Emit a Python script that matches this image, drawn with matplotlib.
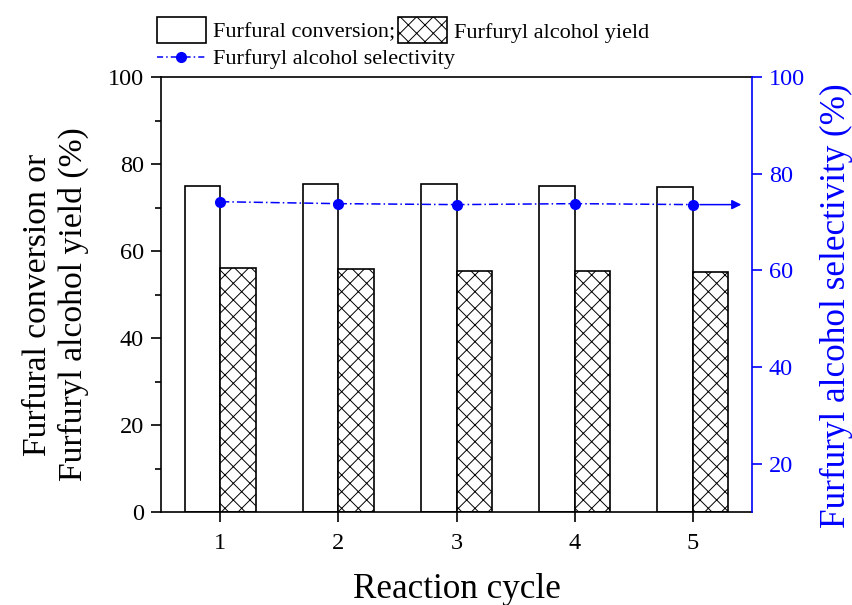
import matplotlib.pyplot as plt
from matplotlib.patches import Patch
from matplotlib.lines import Line2D
from matplotlib.ticker import MultipleLocator

cycles = [1, 2, 3, 4, 5]
conversion = [75.0, 75.4, 75.3, 75.0, 74.7]
yield_fa = [56.2, 55.8, 55.5, 55.5, 55.1]
selectivity = [74.2, 73.8, 73.6, 73.8, 73.6]

plt.rcParams['font.family'] = ['Liberation Serif', 'DejaVu Serif']
plt.rcParams['hatch.linewidth'] = 0.7
plt.rcParams['axes.linewidth'] = 1.2

fig = plt.figure(figsize=(8.52, 6.05), dpi=100)
ax = fig.add_axes([0.189, 0.1537, 0.6936, 0.719])

w = 0.3
ax.bar([c - w / 2 for c in cycles], conversion, w, color='white', edgecolor='black', linewidth=1.2)
ax.bar([c + w / 2 for c in cycles], yield_fa, w, color='white', edgecolor='black',
       linewidth=1.2, hatch='xx')

ax.set_xlim(0.5, 5.5)
ax.set_ylim(0, 100)
ax.set_xticks(cycles)
ax.yaxis.set_major_locator(MultipleLocator(20))
ax.yaxis.set_minor_locator(MultipleLocator(10))
ax.tick_params(axis='both', which='major', direction='out', length=7, width=1.2, labelsize=17.5)
ax.tick_params(axis='x', pad=8)
ax.tick_params(axis='y', pad=5.5)
ax.tick_params(axis='y', which='minor', direction='out', length=4, width=1.2)
ax.spines['right'].set_visible(False)
ax.set_xlabel('Reaction cycle', fontsize=25.3, labelpad=13.5)
ax.set_ylabel('Furfural conversion or\nFurfuryl alcohol yield (%)', fontsize=24.2, labelpad=13,
              linespacing=1.2)
ax.yaxis.label.set_y(0.477)

ax2 = ax.twinx()
ax2.plot(cycles, selectivity, color='blue', linestyle=(0, (6, 2, 1, 2)), linewidth=1.1,
         marker='o', markersize=7)
# arrow pointing to the right axis
ax2.annotate('', xy=(5.41, selectivity[-1]), xytext=(5.06, selectivity[-1]),
             arrowprops=dict(arrowstyle='-|>', color='blue', lw=1.1, shrinkA=0, shrinkB=0,
                             mutation_scale=14))
ax2.set_ylim(10, 100)
ax2.set_yticks([20, 40, 60, 80, 100])
for s in ['left', 'top', 'bottom']:
    ax2.spines[s].set_visible(False)
ax2.spines['right'].set_color('blue')
ax2.tick_params(axis='y', direction='out', length=7, width=1.2, colors='blue', labelsize=17.5,
                pad=5)
ax2.set_ylabel('Furfuryl alcohol selectivity (%)', fontsize=25.3, color='blue', labelpad=11)
ax2.yaxis.label.set_y(0.474)

h1 = [Patch(facecolor='white', edgecolor='black', linewidth=1.2),
      Patch(facecolor='white', edgecolor='black', linewidth=1.2, hatch='xx')]
leg1 = fig.legend(h1, ['Furfural conversion;', 'Furfuryl alcohol yield'], ncol=2,
                  loc='upper left', bbox_to_anchor=(0.166, 0.997), frameon=False, fontsize=16,
                  handlelength=2.2, handleheight=1.4, handletextpad=0.3, columnspacing=0.15,
                  borderaxespad=0.3)
h2 = [Line2D([0], [0], color='blue', linestyle=(0, (4, 2, 1, 2)), linewidth=1.1,
             marker='o', markersize=7)]
leg2 = fig.legend(h2, ['Furfuryl alcohol selectivity'], loc='upper left',
                  bbox_to_anchor=(0.166, 0.945), frameon=False, fontsize=16,
                  handlelength=2.2, handletextpad=0.3, borderaxespad=0.3)

fig.savefig('out.png', dpi=100)
